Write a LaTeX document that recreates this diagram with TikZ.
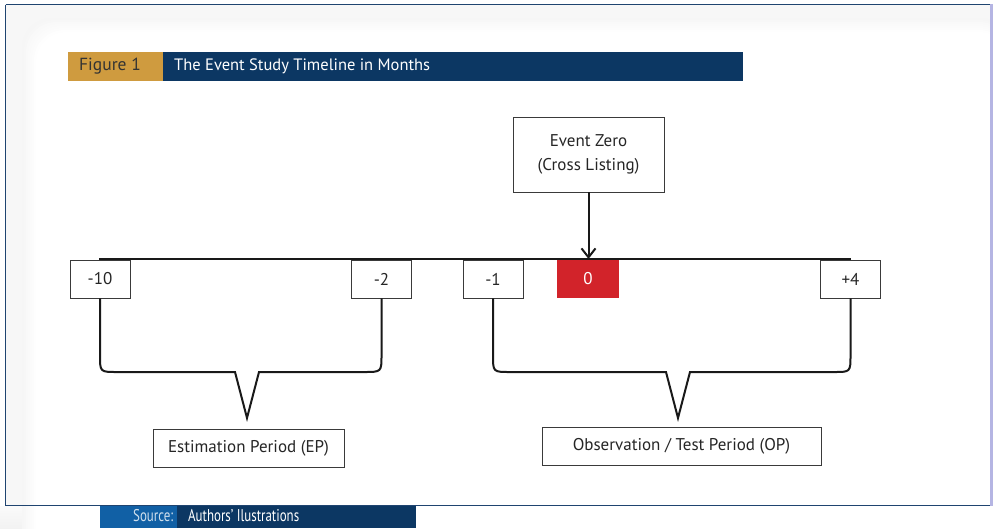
\documentclass[tikz,border=0pt]{standalone}
\usepackage{fontspec}
\setmainfont{PT Sans}
\usetikzlibrary{arrows.meta}
\definecolor{navy}{HTML}{0C3763}
\definecolor{gold}{HTML}{CF9B3F}
\definecolor{evred}{HTML}{D2232A}
\definecolor{srcblue}{HTML}{1160A5}
\definecolor{framec}{HTML}{1F4470}
\definecolor{boxline}{HTML}{3A3A3A}
\tikzset{
  tick/.style={draw=boxline, line width=0.9pt, minimum width=60pt, minimum height=38pt, inner sep=0pt, font=\fontsize{17}{19}\selectfont, text=black!85},
  redtick/.style={fill=evred, minimum width=62pt, minimum height=38pt, inner sep=0pt, font=\fontsize{17}{19}\selectfont, text=white},
  labelbox/.style={draw=boxline, line width=0.9pt, inner sep=0pt, font=\fontsize{17}{19}\selectfont, text=black!85},
  brace/.style={draw=black!90, line width=2pt, line join=miter},
}
\begin{document}
\begin{tikzpicture}[x=1pt,y=-1pt]
\useasboundingbox (0,0) rectangle (993,528);
% background outside frame
\fill[white] (0,0) rectangle (993,528);
\shade[top color=gray!4, bottom color=gray!10] (0,506) rectangle (993,528);
% inner shadow
\fill[gray!6] (6,5) rectangle (990,505);
\foreach \i/\c in {0/7,1/6,2/5,3/4,4/3,5/2,6/1,7/0}{
  \fill[gray!\c, rounded corners=30] (22+2*\i,18+2*\i) rectangle (1010,560);
}
\fill[white, rounded corners=30] (38,34) rectangle (1010,560);
% frame
\draw[framec, line width=1.3pt] (5.5,4.5) -- (990.5,4.5);
\draw[framec, line width=1.3pt] (5.5,4.5) -- (5.5,505.5) -- (990.5,505.5);
\fill[gray!55!blue!40] (990,4) rectangle (993,506);
% title bar
\node[fill=gold, minimum width=95pt, minimum height=29pt, inner sep=0pt, anchor=north west] (fig) at (68,52) {};
\node[anchor=west, inner sep=0pt, text=black!80, font=\fontsize{17.5}{19}\selectfont] (figt) at (79,66.5) {Figure 1};
\node[fill=navy, minimum width=580pt, minimum height=29pt, inner sep=0pt, anchor=north west] (title) at (163,52) {};
\node[anchor=west, inner sep=0pt, text=white, font=\fontsize{16.5}{18}\selectfont] (titlet) at (174,66.5) {The Event Study Timeline in Months};
% event zero
\node[labelbox, minimum width=151pt, minimum height=75pt, align=center, font=\fontsize{17}{24}\selectfont] (ez) at (588.5,154.5) {Event Zero\\(Cross Listing)};
% timeline
\coordinate (tlL) at (99,259);
\coordinate (tlR) at (851,259);
\draw[black!90, line width=2pt] (tlL) -- (tlR);
% ticks
\node[tick] (m10) at (100,279) {-10};
\node[tick] (m2) at (381.5,279) {-2};
\node[tick] (m1) at (493,279) {-1};
\node[redtick] (z) at (588,279) {0};
\node[tick] (p4) at (850.5,279) {+4};
% arrow
\draw[black!90, line width=2pt, -{Straight Barb[length=9pt,width=14pt,line width=2pt]}] (ez.south) -- (ez.south |- tlL);
% period boxes
\node[labelbox, minimum width=191pt, minimum height=38pt] (ep) at (248.5,448) {Estimation Period (EP)};
\node[labelbox, minimum width=279pt, minimum height=38pt] (op) at (681.5,446) {Observation / Test Period (OP)};
% braces
\coordinate (epTip) at (247,418);
\coordinate (opTip) at (678,418);
\draw[brace] (m10.south) -- (100,355) .. controls (100,372) .. (117,372) -- (235,372) -- (epTip) -- (259,372) -- (364,372) .. controls (381.5,372) .. (381.5,355) -- (m2.south);
\draw[brace] (m1.south) -- (493,355) .. controls (493,372) .. (510,372) -- (666,372) -- (opTip) -- (690,372) -- (834,372) .. controls (850.5,372) .. (850.5,355) -- (p4.south);
% source bar
\fill[srcblue] (100,506) rectangle (177,528);
\fill[navy] (177,506) rectangle (416,528);
\node[anchor=west, xscale=0.76, text=white!80!srcblue, font=\fontsize{17}{19}\selectfont, inner sep=0pt] (src) at (133,516) {Source:};
\node[anchor=west, xscale=0.76, text=white, font=\fontsize{17}{19}\selectfont, inner sep=0pt] (auth) at (188,516) {Authors’ Ilustrations};
\end{tikzpicture}
\end{document}
